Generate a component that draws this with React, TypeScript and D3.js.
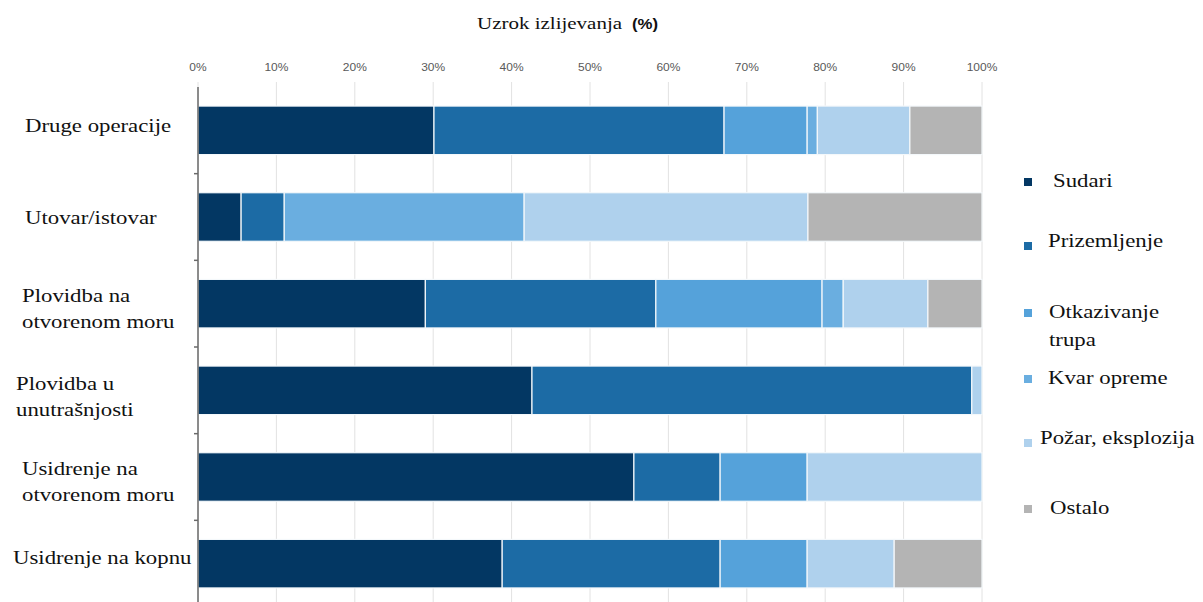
import { useEffect, useRef } from 'react';
import * as d3 from 'd3';

const categories = [
  ['Druge operacije'],
  ['Utovar/istovar'],
  ['Plovidba na', 'otvorenom moru'],
  ['Plovidba u', 'unutrašnjosti'],
  ['Usidrenje na', 'otvorenom moru'],
  ['Usidrenje na kopnu'],
];
const categoryKeys = categories.map((c) => c.join(' '));

const seriesNames = ['Sudari', 'Prizemljenje', 'Otkazivanje trupa', 'Kvar opreme', 'Požar, eksplozija', 'Ostalo'];
const seriesColors = ['#033763', '#1c6ba5', '#55a2da', '#6aaee0', '#afd1ed', '#b4b4b4'];

const sudari = [30.1, 5.5, 29.0, 42.6, 55.6, 38.8];
const prizemljenje = [37.0, 5.5, 29.4, 56.1, 11.0, 27.8];
const otkazivanjeTrupa = [10.6, 0, 21.2, 0, 11.1, 11.1];
const kvarOpreme = [1.3, 30.6, 2.7, 0, 0, 0];
const pozar = [11.8, 36.2, 10.8, 1.3, 22.3, 11.1];
const ostalo = [9.2, 22.2, 6.9, 0, 0, 11.2];

const xTicks = [0, 10, 20, 30, 40, 50, 60, 70, 80, 90, 100];

const legendItems = [
  { lines: ['Sudari'], y: 181, tx: 1053 },
  { lines: ['Prizemljenje'], y: 241, tx: 1048 },
  { lines: ['Otkazivanje', 'trupa'], y: 312, tx: 1049 },
  { lines: ['Kvar opreme'], y: 378, tx: 1048 },
  { lines: ['Požar, eksplozija'], y: 438, tx: 1040 },
  { lines: ['Ostalo'], y: 508, tx: 1050 },
];

// the source picture is stretched horizontally
const stretch = 1.2;

function App() {
  const ref = useRef<SVGSVGElement>(null);
  const width = 1203;
  const height = 602;

  useEffect(() => {
    const svg = d3.select(ref.current);
    svg.selectAll('*').remove();

    const serif = '"Liberation Serif", "Times New Roman", serif';
    const sans = '"Liberation Sans", Arial, sans-serif';

    const x = d3.scaleLinear().domain([0, 100]).range([198, 982]);
    const y = d3
      .scaleBand()
      .domain(categoryKeys)
      .range([87, 607])
      .paddingInner(0.44)
      .paddingOuter(0.22);

    const rows = categoryKeys.map((k, i) => ({
      key: k,
      s0: sudari[i],
      s1: prizemljenje[i],
      s2: otkazivanjeTrupa[i],
      s3: kvarOpreme[i],
      s4: pozar[i],
      s5: ostalo[i],
    }));
    const stack = d3.stack<any>().keys(['s0', 's1', 's2', 's3', 's4', 's5']);
    const series = stack(rows);

    // text helper with horizontal stretch
    function label(g: any, tx: number, ty: number, txt: string, font: string, size: number, anchor = 'start') {
      return g
        .append('text')
        .attr('transform', `translate(${tx},${ty}) scale(${stretch},1)`)
        .attr('text-anchor', anchor)
        .attr('font-family', font)
        .attr('font-size', size)
        .attr('fill', '#111')
        .text(txt);
    }

    // title
    label(svg, 477, 29, 'Uzrok izlijevanja', serif, 17.5);
    label(svg, 632, 29, '(%)', sans, 14).attr('font-weight', 'bold');

    // gridlines
    svg
      .append('g')
      .selectAll('line')
      .data(xTicks)
      .join('line')
      .attr('x1', (d) => x(d))
      .attr('x2', (d) => x(d))
      .attr('y1', 82)
      .attr('y2', 602)
      .attr('stroke', '#e2e2e2')
      .attr('stroke-width', 1);

    // top tick labels
    const tg = svg.append('g');
    xTicks.forEach((d) => {
      label(tg, x(d), 71, d + '%', sans, 10, 'middle').attr('fill', '#595959');
    });

    // bars
    svg
      .append('g')
      .selectAll('g')
      .data(series)
      .join('g')
      .attr('fill', (_, i) => seriesColors[i])
      .selectAll('rect')
      .data((d) => d.filter((p) => p[1] - p[0] > 0))
      .join('rect')
      .attr('x', (d) => x(d[0]))
      .attr('y', (d) => y(d.data.key) as number)
      .attr('width', (d) => x(d[1]) - x(d[0]))
      .attr('height', y.bandwidth())
      .attr('stroke', '#f4f8fb')
      .attr('stroke-width', 1.2);

    // left axis
    const ax = svg.append('g');
    ax.append('line')
      .attr('x1', 198)
      .attr('x2', 198)
      .attr('y1', 87)
      .attr('y2', 602)
      .attr('stroke', '#6a6a6a')
      .attr('stroke-width', 1.5);
    const bounds = categoryKeys.slice(1).map((k) => (y(k) as number) - (y.step() - y.bandwidth()) / 2);
    ax.selectAll('line.t')
      .data(bounds)
      .join('line')
      .attr('class', 't')
      .attr('x1', 194)
      .attr('x2', 198)
      .attr('y1', (d) => d)
      .attr('y2', (d) => d)
      .attr('stroke', '#6a6a6a')
      .attr('stroke-width', 1.5);

    // category labels (the source labels sit a bit off their bars)
    const labelShift = [-5, 0, 4, 6, 4, -7];
    const labelX = [25, 25, 22, 16, 22, 13];
    const catG = svg.append('g');
    categories.forEach((lines, i) => {
      const cy = (y(categoryKeys[i]) as number) + y.bandwidth() / 2 + labelShift[i];
      lines.forEach((ln, j) => {
        label(catG, labelX[i], cy + 1 + (j - (lines.length - 1) / 2) * 26 + 6, ln, serif, 19);
      });
    });

    // legend
    const lg = svg.append('g');
    legendItems.forEach((item, i) => {
      lg.append('rect')
        .attr('x', 1024)
        .attr('y', item.y - 3 + (i === 1 || i === 4 ? 4 : 0))
        .attr('width', 8)
        .attr('height', 8)
        .attr('fill', seriesColors[i])
        .append('title')
        .text(seriesNames[i]);
      item.lines.forEach((ln, j) => {
        label(lg, item.tx, item.y + 6 + j * 28, ln, serif, 19);
      });
    });
  }, []);

  return (
    <svg
      ref={ref}
      width={width}
      height={height}
      style={{ position: 'absolute', left: 0, top: 0, background: '#fff' }}
    ></svg>
  );
}

export default App;
